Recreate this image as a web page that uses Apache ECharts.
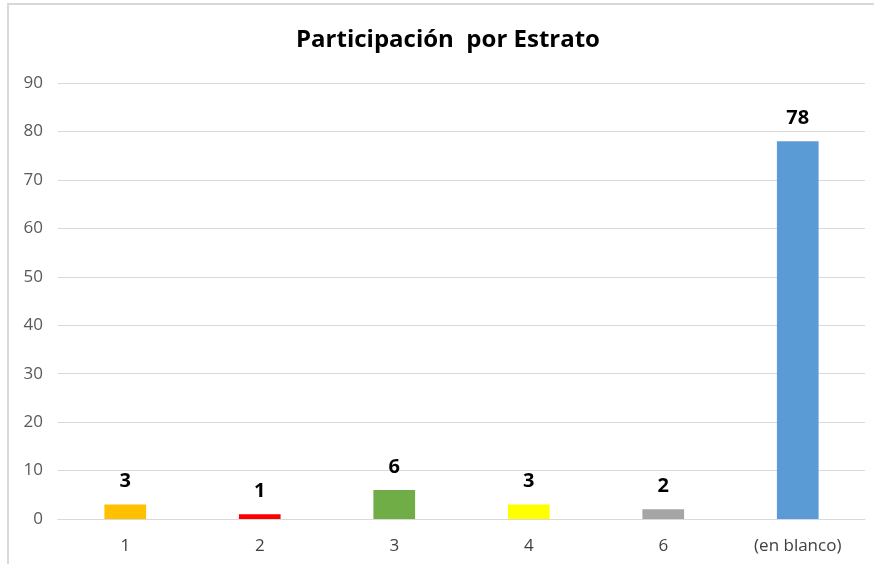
<!DOCTYPE html>
<html>
<head>
<meta charset="utf-8">
<script src="https://cdn.jsdelivr.net/npm/echarts@6/dist/echarts.min.js"></script>
<style>
  html, body { margin: 0; padding: 0; background: #fff; }
  #chart { width: 874px; height: 564px; }
</style>
</head>
<body>
<div id="chart"></div>
<script>
// datos del gráfico
const categorias = ['1', '2', '3', '4', '6', '(en blanco)'];
const valores = [3, 1, 6, 3, 2, 78];
const colores = ['#FFC000', '#FF0000', '#70AD47', '#FFFF00', '#A5A5A5', '#5B9BD5'];

const fuente = '"Open Sans", sans-serif';

let chart = echarts.init(document.getElementById('chart'));

chart.setOption({
  animation: false,
  title: {
    text: 'Participación  por Estrato',
    left: 443,
    top: 23,
    textAlign: 'center',
    textStyle: { fontFamily: fuente, fontSize: 24, fontWeight: 'bold', color: '#000' }
  },
  // marco del área del gráfico
  graphic: [{
    type: 'rect',
    shape: { x: 8, y: 4, width: 900, height: 600 },
    style: { fill: 'none', stroke: '#d9d9d9', lineWidth: 2 },
    silent: true
  }],
  grid: { left: 58, right: 9, top: 83, bottom: 45 },
  xAxis: {
    type: 'category',
    data: categorias,
    axisLine: { lineStyle: { color: '#d9d9d9' } },
    axisTick: { show: false },
    axisLabel: { fontFamily: fuente, fontSize: 17, color: '#404040', margin: 19 }
  },
  yAxis: {
    type: 'value',
    min: 0,
    max: 90,
    interval: 10,
    axisLine: { show: false },
    axisTick: { show: false },
    splitLine: { lineStyle: { color: '#d9d9d9' } },
    axisLabel: { fontFamily: fuente, fontSize: 17, color: '#595959', margin: 15 }
  },
  series: [{
    type: 'bar',
    data: valores.map((v, i) => ({ value: v, itemStyle: { color: colores[i] } })),
    barWidth: '31%',
    label: {
      show: true,
      position: 'top',
      distance: 13,
      fontFamily: fuente,
      fontSize: 20,
      fontWeight: 'bold',
      color: '#000'
    }
  }]
});
</script>
</body>
</html>
